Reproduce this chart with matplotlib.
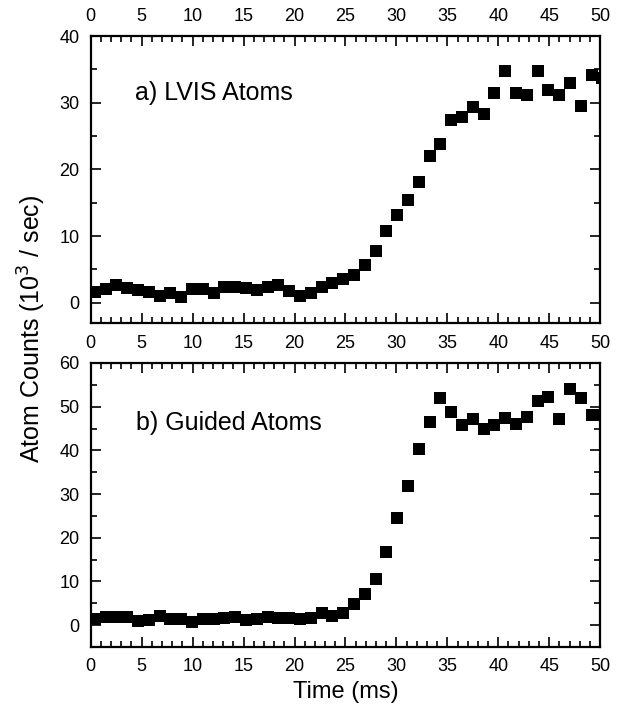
import matplotlib
matplotlib.use("Agg")
import matplotlib.pyplot as plt
from matplotlib.ticker import MultipleLocator

plt.rcParams['font.family'] = ['Liberation Sans', 'DejaVu Sans']

# time axis shared by both traces (ms)
time_ms = [0.4, 1.5, 2.5, 3.6, 4.6, 5.7, 6.8, 7.8, 8.9, 9.9,
           11.0, 12.1, 13.1, 14.2, 15.2, 16.3, 17.4, 18.4, 19.5, 20.5,
           21.6, 22.7, 23.7, 24.8, 25.8, 26.9, 28.0, 29.0, 30.1, 31.1,
           32.2, 33.3, 34.3, 35.4, 36.4, 37.5, 38.6, 39.6, 40.7, 41.7,
           42.8, 43.9, 44.9, 46.0, 47.0, 48.1, 49.2, 50.2]

# a) LVIS atoms (10^3 / sec)
lvis_counts = [1.6, 2.0, 2.7, 2.2, 1.9, 1.6, 1.0, 1.4, 0.9, 2.1,
               2.1, 1.5, 2.4, 2.4, 2.2, 1.9, 2.4, 2.7, 1.8, 1.0,
               1.5, 2.3, 3.0, 3.5, 4.1, 5.6, 7.7, 10.7, 13.1, 15.4,
               18.1, 22.0, 23.8, 27.4, 27.8, 29.3, 28.3, 31.4, 34.7, 31.4,
               31.2, 34.8, 31.9, 31.2, 32.9, 29.5, 34.2, 33.7]

# b) guided atoms (10^3 / sec)
guided_counts = [1.3, 1.8, 1.8, 1.9, 1.0, 1.2, 2.1, 1.3, 1.4, 0.8,
                 1.5, 1.4, 1.6, 1.9, 1.2, 1.4, 1.8, 1.7, 1.6, 1.3,
                 1.6, 2.8, 2.1, 2.8, 4.9, 7.2, 10.6, 16.7, 24.6, 31.9,
                 40.2, 46.4, 52.1, 48.7, 45.9, 47.1, 44.8, 45.8, 47.5, 46.1,
                 47.6, 51.3, 52.2, 47.1, 54.1, 51.9, 48.1, 48.0]

x_ticks = [0, 5, 10, 15, 20, 25, 30, 35, 40, 45, 50]


def style_axis(ax, ymin, ymax, ystep, bottom_labels):
    ax.set_xlim(0, 50)
    ax.set_ylim(ymin, ymax)
    ax.set_xticks(x_ticks)
    ax.xaxis.set_minor_locator(MultipleLocator(1))
    ax.yaxis.set_major_locator(MultipleLocator(ystep))
    ax.yaxis.set_minor_locator(MultipleLocator(ystep / 2))
    ax.tick_params(which='both', direction='in', top=True, right=True,
                   labeltop=True, labelbottom=bottom_labels,
                   labelsize=13, pad=8, width=1.2)
    ax.tick_params(which='major', length=7)
    ax.tick_params(which='minor', length=4)
    for sp in ax.spines.values():
        sp.set_linewidth(1.6)


fig = plt.figure(figsize=(6.3, 7.08), dpi=100)

ax1 = fig.add_axes([0.144, 0.5442, 0.8087, 0.4049])
ax1.plot(time_ms, lvis_counts, 's', color='black', markersize=8.5, markeredgewidth=0)
style_axis(ax1, -3, 40, 10, False)
ax1.text(0.087, 0.777, 'a) LVIS Atoms', transform=ax1.transAxes, fontsize=18)

ax2 = fig.add_axes([0.144, 0.0862, 0.8087, 0.4011])
ax2.plot(time_ms, guided_counts, 's', color='black', markersize=8.5, markeredgewidth=0)
style_axis(ax2, -5, 60, 10, True)
ax2.text(0.088, 0.764, 'b) Guided Atoms', transform=ax2.transAxes, fontsize=18)
ax2.set_xlabel('Time (ms)', fontsize=17, labelpad=4)

fig.text(0.05, 0.535, 'Atom Counts (10$^3$ / sec)', rotation=90,
         ha='center', va='center', fontsize=18)

fig.savefig('out.png', dpi=100)
